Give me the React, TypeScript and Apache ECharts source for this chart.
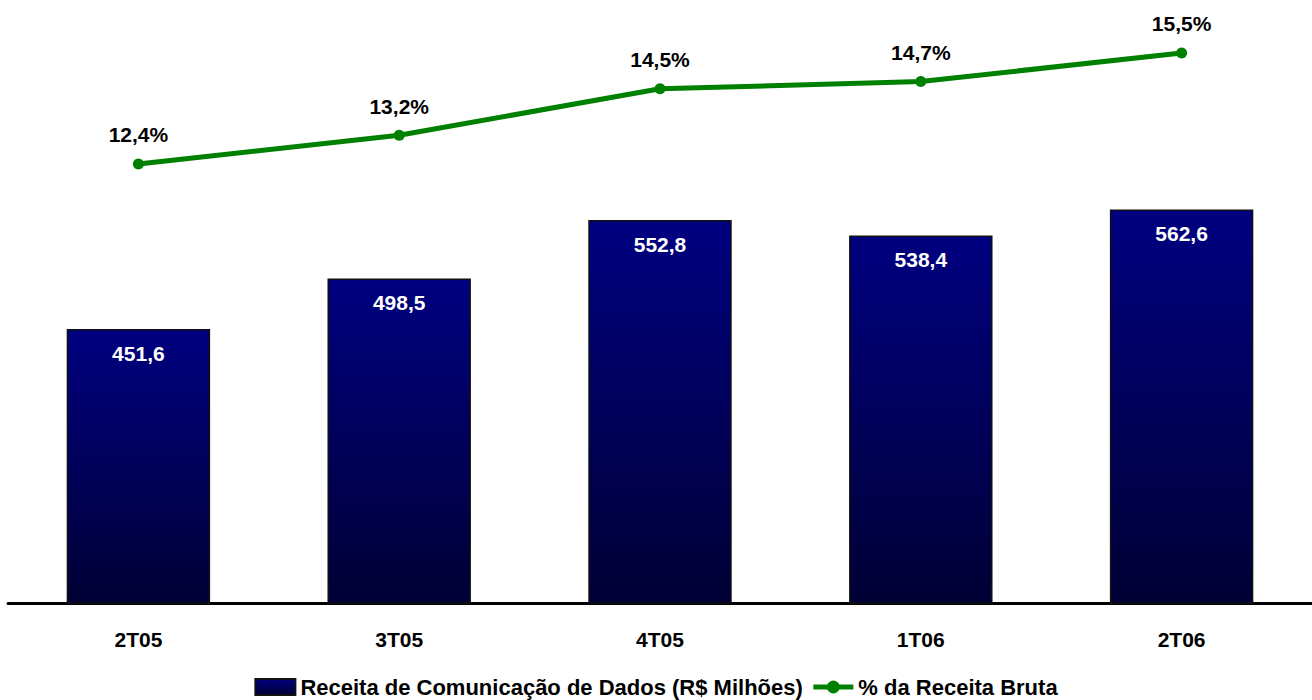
import React, { useEffect, useRef } from "react";
import * as echarts from "echarts";

const categories = ["2T05", "3T05", "4T05", "1T06", "2T06"];
const revenue = [451.6, 498.5, 552.8, 538.4, 562.6];
const share = [12.4, 13.2, 14.5, 14.7, 15.5];
const barName = "Receita de Comunicação de Dados (R$ Milhões)";
const lineName = "% da Receita Bruta";

const fmt = (v: number) => v.toFixed(1).replace(".", ",");

export default function App() {
  const ref = useRef<HTMLDivElement>(null);
  useEffect(() => {
    document.body.style.margin = "0";
    const chart = echarts.init(ref.current!, null, { renderer: "svg" });
    const font = "Arial, 'Liberation Sans', sans-serif";
    const fs = 21;
    chart.setOption({
      animation: false,
      textStyle: { fontFamily: font },
      grid: { left: 8, right: 0, top: 20, bottom: 97, containLabel: false },
      legend: {
        bottom: -3,
        left: "center",
        itemGap: 8,
        itemWidth: 40,
        itemHeight: 16,
        textStyle: { fontFamily: font, fontWeight: "bold", fontSize: 22, color: "#000" },
        data: [
          { name: barName, icon: "rect" },
          { name: lineName, lineStyle: { width: 5 } },
        ],
      },
      xAxis: {
        type: "category",
        data: categories,
        axisTick: { show: false },
        axisLine: { lineStyle: { color: "#000", width: 3 } },
        axisLabel: { margin: 26, fontFamily: font, fontWeight: "bold", fontSize: fs, color: "#000" },
      },
      yAxis: [
        { type: "value", min: 197, max: 738.5, show: false, splitLine: { show: false } },
        { type: "value", min: 0.14, max: 16.42, show: false, splitLine: { show: false } },
      ],
      series: [
        {
          name: barName,
          type: "bar",
          data: revenue,
          barWidth: "55%",
          yAxisIndex: 0,
          itemStyle: {
            color: new echarts.graphic.LinearGradient(0, 0, 0, 1, [
              { offset: 0, color: "#000080" },
              { offset: 1, color: "#000035" },
            ]),
            borderColor: "#111",
            borderWidth: 1.5,
          },
          label: {
            show: true,
            position: "insideTop",
            distance: 14,
            color: "#fff",
            fontFamily: font,
            fontWeight: "bold",
            fontSize: fs,
            formatter: (p: any) => fmt(p.value),
          },
        },
        {
          name: lineName,
          type: "line",
          data: share,
          yAxisIndex: 1,
          symbol: "circle",
          symbolSize: 11,
          lineStyle: { color: "#008000", width: 5 },
          itemStyle: { color: "#008000" },
          label: {
            show: true,
            position: "top",
            distance: 13,
            color: "#000",
            fontFamily: font,
            fontWeight: "bold",
            fontSize: fs,
            formatter: (p: any) => fmt(p.value) + "%",
          },
        },
      ],
    });
    return () => chart.dispose();
  }, []);
  return <div ref={ref} style={{ width: 1312, height: 700 }} />;
}
